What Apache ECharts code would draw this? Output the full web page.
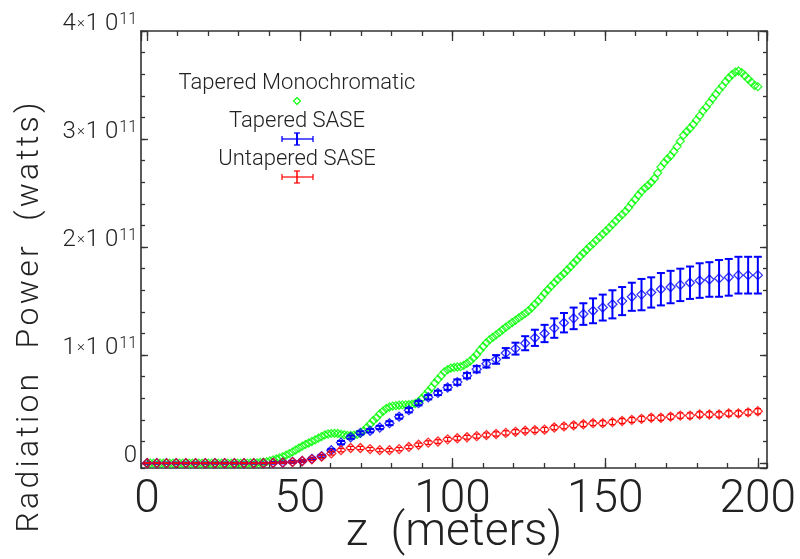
<!DOCTYPE html>
<html><head><meta charset="utf-8">
<script src="https://cdn.jsdelivr.net/npm/echarts@6/dist/echarts.min.js"></script>
<style>html,body{margin:0;padding:0;background:#fff}#c{width:800px;height:559px}</style>
</head><body><div id="c"></div>
<script>
// ---- data (power in units of 1e11 W) ----
const zStart = 0, zEnd = 200;
const seriesNames = ['Tapered Monochromatic', 'Tapered SASE', 'Untapered SASE'];
const xTickLabels = ['0', '50', '100', '150', '200'];
const yTickValues = [0, 1, 2, 3, 4];

const monoPower = [
 0,0,0,0,0,0,0,0,0,0,
 0,0,0,0,0,0,0,0,0,0,
 0,0,0,0,0,0,0,0,0,0,
 0,0,0.001,0.002,0.003,0.006,0.008,0.014,0.021,0.03,
 0.038,0.048,0.06,0.073,0.088,0.104,0.122,0.14,0.157,0.173,
 0.186,0.2,0.215,0.231,0.246,0.261,0.27,0.275,0.276,0.274,
 0.268,0.262,0.257,0.256,0.258,0.266,0.278,0.3,0.33,0.36,
 0.395,0.42,0.455,0.48,0.505,0.52,0.528,0.532,0.536,0.539,
 0.54,0.541,0.545,0.552,0.57,0.598,0.63,0.665,0.7,0.74,
 0.775,0.81,0.845,0.865,0.88,0.886,0.89,0.893,0.905,0.925,
 0.945,0.975,1.005,1.045,1.08,1.115,1.143,1.165,1.187,1.21,
 1.235,1.258,1.28,1.302,1.322,1.344,1.365,1.386,1.41,1.438,
 1.47,1.5,1.535,1.572,1.605,1.638,1.668,1.7,1.728,1.755,
 1.788,1.818,1.85,1.88,1.915,1.945,1.975,2.005,2.032,2.062,
 2.09,2.12,2.148,2.178,2.21,2.24,2.272,2.3,2.33,2.365,
 2.405,2.44,2.48,2.515,2.545,2.57,2.6,2.635,2.685,2.74,
 2.78,2.815,2.845,2.885,2.93,2.98,3.035,3.07,3.1,3.135,
 3.175,3.215,3.26,3.295,3.335,3.375,3.415,3.455,3.49,3.53,
 3.565,3.595,3.62,3.63,3.615,3.585,3.555,3.525,3.495,3.485
];

const taperedSase = [
 0,0,0,0,0,0,0,0,0,0,
 0,0,0,0.003,0.006,0.012,0.02,0.04,0.065,0.12,
 0.19,0.24,0.28,0.3,0.33,0.37,0.43,0.49,0.555,0.61,
 0.65,0.7,0.75,0.81,0.87,0.92,0.96,1.02,1.06,1.11,
 1.16,1.2,1.25,1.3,1.34,1.38,1.41,1.44,1.47,1.5,
 1.54,1.56,1.58,1.61,1.63,1.65,1.67,1.69,1.7,1.71,
 1.72,1.74,1.74,1.74
];
const taperedSaseErr = [
 0.005,0.005,0.005,0.005,0.005,0.005,0.005,0.005,0.005,0.005,
 0.005,0.005,0.005,0.008,0.008,0.01,0.01,0.01,0.012,0.012,
 0.015,0.015,0.015,0.015,0.015,0.018,0.018,0.02,0.02,0.02,
 0.02,0.022,0.025,0.025,0.03,0.035,0.04,0.045,0.055,0.065,
 0.075,0.08,0.09,0.09,0.1,0.1,0.115,0.12,0.13,0.13,
 0.13,0.145,0.14,0.15,0.15,0.15,0.15,0.16,0.16,0.17,
 0.17,0.17,0.17,0.17
];
const untaperedSase = [
 0,0,0,0,0,0,0,0,0,0,
 0,0,0,0.003,0.005,0.01,0.02,0.035,0.06,0.09,
 0.12,0.14,0.14,0.13,0.12,0.12,0.13,0.15,0.17,0.19,
 0.2,0.22,0.23,0.24,0.25,0.26,0.27,0.28,0.29,0.3,
 0.305,0.31,0.33,0.34,0.35,0.36,0.37,0.37,0.38,0.39,
 0.4,0.41,0.42,0.42,0.43,0.44,0.44,0.45,0.45,0.45,
 0.46,0.46,0.47,0.48
];
const untaperedSaseErr = [
 0.004,0.004,0.004,0.004,0.004,0.004,0.004,0.004,0.004,0.004,
 0.004,0.004,0.004,0.005,0.006,0.008,0.01,0.012,0.014,0.015,
 0.015,0.015,0.015,0.015,0.015,0.015,0.015,0.016,0.016,0.017,
 0.017,0.018,0.018,0.018,0.019,0.019,0.02,0.02,0.02,0.02,
 0.021,0.021,0.021,0.022,0.022,0.022,0.022,0.023,0.023,0.023,
 0.023,0.024,0.024,0.024,0.024,0.025,0.025,0.025,0.025,0.025,
 0.025,0.025,0.025,0.025
];

// regular z sampling grids
function zGrid(n) { const a = []; for (let i = 0; i < n; i++) a.push(zStart + i * (zEnd - zStart) / (n - 1)); return a; }
const zMono = zGrid(monoPower.length);
const zSase = zGrid(taperedSase.length);

const GREEN = '#00ff00', BLUE = '#0000ff', RED = '#ff0000';
const FONT = 'Roboto';
const AX = '#333333';
const HS = '\u200A'; // hair space, widens the title lettering like the original plot font
function spaced(s) { return s.split('').join(HS); }

const chart = echarts.init(document.getElementById('c'), null, {renderer: 'canvas'});

const xMin = -2, xMax = 203, yMin = -0.045, yMax = 4;

function yLabel(v) {
  if (Math.abs(v) < 1e-9) return '{n|0}';
  return '{n|' + Math.round(v) + '}{x|×}{n|1 0}{s|11}';
}

function mkX(pos, major, showLabels) {
  return {
    type: 'value', min: xMin, max: xMax, position: pos, gridIndex: 0,
    splitNumber: major ? 4 : 20,
    axisLine: {show: major, onZero: false, lineStyle: {color: AX, width: 1.6}},
    axisTick: {show: true, inside: true, length: major ? 10 : 5, lineStyle: {color: AX, width: 1.3}},
    axisLabel: {show: showLabels, showMinLabel: false, showMaxLabel: false, margin: 9,
      fontFamily: FONT, fontWeight: 300, fontSize: 46, color: '#222'},
    splitLine: {show: false},
    name: showLabels ? 'z  (meters)' : '', nameLocation: 'middle', nameGap: 42, nameMoveOverlap: false,
    nameTextStyle: {fontFamily: FONT, fontWeight: 300, fontSize: 46, color: '#222', verticalAlign: 'top'}
  };
}
function mkY(pos, major, showLabels) {
  return {
    type: 'value', min: yMin, max: yMax, position: pos, gridIndex: 0,
    splitNumber: major ? 4 : 20,
    axisLine: {show: major, onZero: false, lineStyle: {color: AX, width: 1.6}},
    axisTick: {show: true, inside: true, length: major ? 7 : 4, lineStyle: {color: AX, width: 1.3}},
    axisLabel: {show: showLabels, showMinLabel: false, margin: 4, verticalAlign: 'middle',
      padding: [0, 0, 15, 0],
      formatter: yLabel,
      rich: {
        n: {fontFamily: FONT, fontWeight: 300, fontSize: 24, color: '#222'},
        x: {fontFamily: FONT, fontWeight: 300, fontSize: 15, color: '#222', padding: [0, 1, 0, 1]},
        s: {fontFamily: FONT, fontWeight: 300, fontSize: 16, color: '#222', verticalAlign: 'top', padding: [0, 0, 0, 1]}
      }},
    splitLine: {show: false},
    name: showLabels ? spaced('Radiation  Power  (watts)') : '', nameLocation: 'middle', nameGap: 95,
    nameMoveOverlap: false, nameRotate: 90,
    nameTextStyle: {fontFamily: FONT, fontWeight: 300, fontSize: 32, color: '#222', padding: [0, 136, 0, 0]}
  };
}

function errRender(color, lw, cap) {
  return function (params, api) {
    const x = api.value(0), y = api.value(1), e = api.value(2);
    const t = api.coord([x, y + e]), b = api.coord([x, y - e]);
    const st = {stroke: color, lineWidth: lw};
    return {type: 'group', children: [
      {type: 'line', shape: {x1: t[0], y1: t[1], x2: b[0], y2: b[1]}, style: st},
      {type: 'line', shape: {x1: t[0] - cap, y1: t[1], x2: t[0] + cap, y2: t[1]}, style: st},
      {type: 'line', shape: {x1: b[0] - cap, y1: b[1], x2: b[0] + cap, y2: b[1]}, style: st}
    ]};
  };
}

const monoData = zMono.map((z, i) => [z, monoPower[i]]);
const tapData = zSase.map((z, i) => [z, taperedSase[i], taperedSaseErr[i]]);
const untData = zSase.map((z, i) => [z, untaperedSase[i], untaperedSaseErr[i]]);

function hollow(color, bw) { return {color: 'rgba(255,255,255,0)', borderColor: color, borderWidth: bw}; }

const legendFont = {fontFamily: FONT, fontWeight: 300, fontSize: 22, fill: '#222'};
function legendText(t, y) {
  return {type: 'text', style: Object.assign({text: t, x: 297, y: y, align: 'center', verticalAlign: 'middle'}, legendFont)};
}
function seg(x1, y1, x2, y2, c, w) { return {type: 'line', shape: {x1, y1, x2, y2}, style: {stroke: c, lineWidth: w}}; }

chart.setOption({
  animation: false,
  backgroundColor: '#fff',
  grid: {left: 141, top: 31, width: 626, height: 437, containLabel: false, outerBoundsMode: 'none'},
  xAxis: [mkX('bottom', true, true), mkX('bottom', false, false), mkX('top', true, false), mkX('top', false, false)],
  yAxis: [mkY('left', true, true), mkY('left', false, false), mkY('right', true, false), mkY('right', false, false)],
  series: [
    {name: seriesNames[0], type: 'scatter', data: monoData, symbol: 'diamond', symbolSize: 8,
     itemStyle: hollow(GREEN, 1.3), silent: true, clip: false, z: 2},
    {name: seriesNames[1] + ' err', type: 'custom', data: tapData, renderItem: errRender(BLUE, 2, 4),
     encode: {x: 0, y: 1}, silent: true, clip: false, z: 3},
    {name: seriesNames[1], type: 'scatter', data: tapData.map(d => [d[0], d[1]]), symbol: 'diamond', symbolSize: 9,
     itemStyle: hollow(BLUE, 1.3), silent: true, clip: false, z: 3},
    {name: seriesNames[2] + ' err', type: 'custom', data: untData, renderItem: errRender(RED, 1.2, 3),
     encode: {x: 0, y: 1}, silent: true, clip: false, z: 4},
    {name: seriesNames[2], type: 'scatter', data: untData.map(d => [d[0], d[1]]), symbol: 'diamond', symbolSize: 9,
     itemStyle: hollow(RED, 1.3), silent: true, clip: false, z: 4}
  ],
  graphic: [
    legendText(seriesNames[0], 83),
    legendText(seriesNames[1], 121),
    legendText(seriesNames[2], 159),
    {type: 'polygon', shape: {points: [[297, 97.5], [300.5, 101], [297, 104.5], [293.5, 101]]}, style: {fill: 'none', stroke: GREEN, lineWidth: 1.1}},
    seg(282, 139, 313, 139, BLUE, 1.3), seg(282, 136, 282, 142, BLUE, 1.3), seg(313, 136, 313, 142, BLUE, 1.3),
    seg(297, 133, 297, 145, BLUE, 2), seg(294, 133, 300, 133, BLUE, 1.3), seg(294, 145, 300, 145, BLUE, 1.3),
    seg(282, 177, 313, 177, RED, 1.2), seg(282, 174, 282, 180, RED, 1.2), seg(313, 174, 313, 180, RED, 1.2),
    seg(297, 171, 297, 183, RED, 1.5), seg(294, 171, 300, 171, RED, 1.2), seg(294, 183, 300, 183, RED, 1.2)
  ]
});
</script>
</body></html>
